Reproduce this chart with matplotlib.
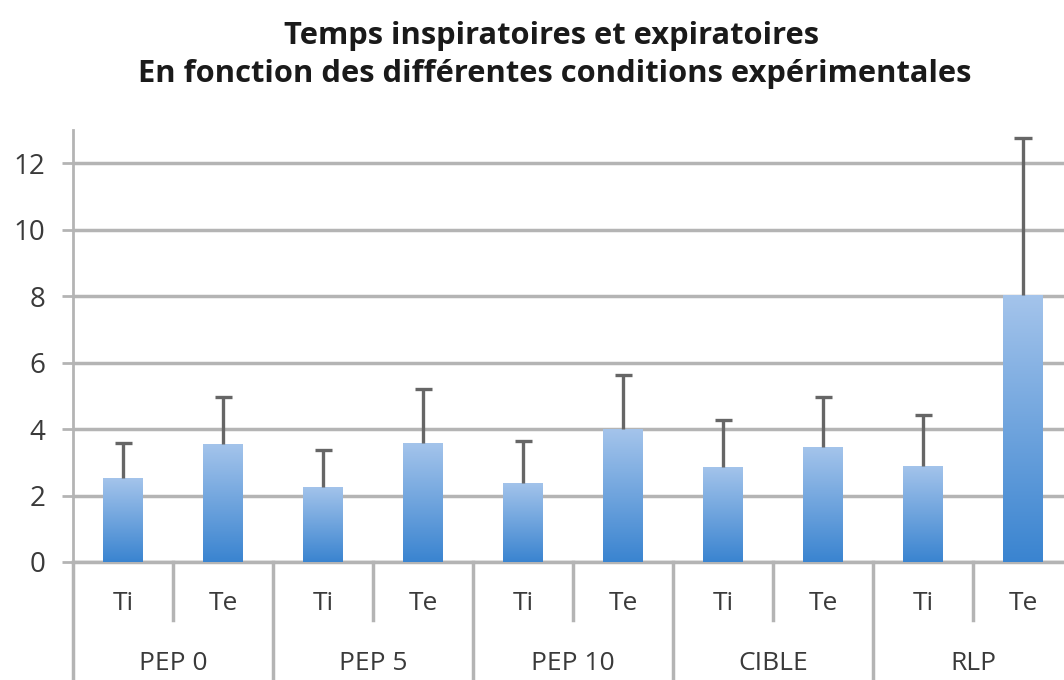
from matplotlib import pyplot as plt
from matplotlib.colors import LinearSegmentedColormap
import matplotlib.transforms as mtransforms
import numpy as np

# conditions expérimentales et sous-catégories
groupes = ["PEP 0", "PEP 5", "PEP 10", "CIBLE", "RLP"]
phases = ["Ti", "Te"]
# moyennes (s) et écarts-types, dans l'ordre Ti, Te pour chaque condition
moyennes = [2.52, 3.55, 2.27, 3.57, 2.38, 4.00, 2.86, 3.46, 2.89, 8.03]
ecarts = [1.05, 1.42, 1.10, 1.65, 1.26, 1.62, 1.41, 1.50, 1.53, 4.72]
yticks = [0, 2, 4, 6, 8, 10, 12]

plt.rcParams['font.family'] = ['Open Sans', 'DejaVu Sans']

fig = plt.figure(figsize=(10.64, 6.8), dpi=100)
ax = fig.add_axes([73 / 1064, 118 / 680, 1000 / 1064, 432 / 680])

x = np.arange(len(moyennes))
largeur = 0.4
gris = "#b4b4b4"
texte = "#3a3a3a"

barres = ax.bar(x, moyennes, width=largeur, color="none", edgecolor="none", zorder=3)

# dégradé vertical dans chaque barre (clair en haut, foncé en bas)
cmap = LinearSegmentedColormap.from_list("bleu", ["#3a84d0", "#a4c4eb"])
grad = np.linspace(0, 1, 256).reshape(-1, 1)
for b in barres:
    x0, y0 = b.get_x(), b.get_y()
    w, h = b.get_width(), b.get_height()
    im = ax.imshow(grad, cmap=cmap, origin="lower", aspect="auto",
                   extent=[x0, x0 + w, y0, y0 + h], zorder=3)
    im.set_clip_path(b)

# barres d'erreur uniquement vers le haut (trait + chapeau)
hauts = np.array(moyennes) + np.array(ecarts)
ax.vlines(x, moyennes, hauts, color="#666666", linewidth=2.4, zorder=4)
ax.hlines(hauts, x - 0.085, x + 0.085, color="#666666", linewidth=2.4, zorder=4)

ax.set_xlim(-0.5, len(moyennes) - 0.5)
ax.set_ylim(0, 13)
ax.set_yticks(yticks)
ax.yaxis.grid(True, color=gris, linewidth=2.5, zorder=0)
ax.set_axisbelow(True)
for s in ["top", "right"]:
    ax.spines[s].set_visible(False)
ax.spines["left"].set_color(gris)
ax.spines["left"].set_linewidth(2)
ax.spines["bottom"].set_color(gris)
ax.spines["bottom"].set_linewidth(2.5)
ax.tick_params(axis="y", length=8, width=2, color=gris, labelsize=20,
               labelcolor=texte, pad=12)
ax.set_xticks([])

# étiquettes à deux niveaux sous l'axe
trans = mtransforms.blended_transform_factory(ax.transData, ax.transAxes)
h_ax = 432.0
for i, xi in enumerate(x):
    ax.text(xi, -42 / h_ax, phases[i % 2], transform=trans, ha="center",
            va="center", fontsize=19, color=texte)
for j, g in enumerate(groupes):
    ax.text(2 * j + 0.5, -102 / h_ax, g, transform=trans, ha="center",
            va="center", fontsize=19, color=texte)
    # séparateur de groupe
    ax.plot([2 * j - 0.5, 2 * j - 0.5], [0, -130 / h_ax], transform=trans,
            color=gris, linewidth=2.5, clip_on=False)
    # séparateur Ti / Te
    ax.plot([2 * j + 0.5, 2 * j + 0.5], [0, -58 / h_ax], transform=trans,
            color=gris, linewidth=2.5, clip_on=False)

fig.text(551 / 1064, 1 - 36 / 680, "Temps inspiratoires et expiratoires",
         ha="center", va="center", fontsize=22.2, fontweight="bold", color="#1a1a1a")
fig.text(555 / 1064, 1 - 74 / 680, "En fonction des différentes conditions expérimentales",
         ha="center", va="center", fontsize=22.2, fontweight="bold", color="#1a1a1a")

fig.savefig("out.png", dpi=100, facecolor="white")
